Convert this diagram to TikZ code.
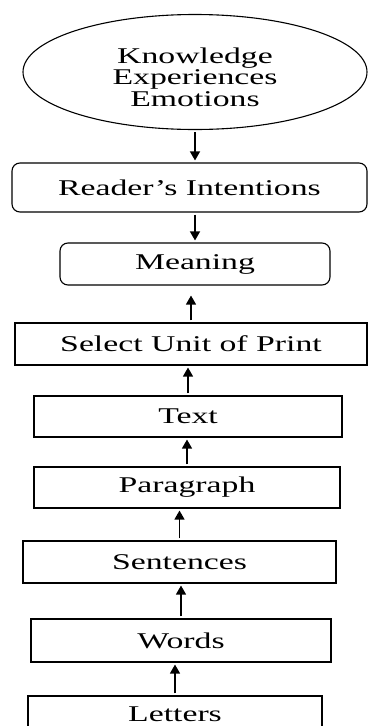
\documentclass[tikz,border=0pt]{standalone}
\usepackage{fontspec}
\setmainfont{Liberation Serif}[FakeStretch=1.5]
\usetikzlibrary{shapes.geometric,arrows.meta}
\begin{document}
\begin{tikzpicture}[x=1pt,y=-1pt,
    every node/.style={font=\fontsize{22.5}{21.5}\selectfont,inner sep=0pt},
    box/.style={draw,line width=1.1pt,minimum height=42pt},
    rbox/.style={box,rounded corners=8pt},
    arr/.style={-{Triangle[length=9pt,width=10pt]},line width=1.3pt,shorten <=2pt,shorten >=2pt}]
    \clip (0,0) rectangle (368,726);
    %Top
    \node[draw,ellipse,line width=1.1pt,minimum width=344pt,minimum height=115pt] (source) at (195,72) {};
    \node[align=center] (sourcetext) at ([yshift=-5pt]source.center) {Knowledge\\Experiences\\Emotions};
    \node[rbox,minimum width=355pt,minimum height=49pt] (intent) at (189.5,187.5) {Reader’s Intentions};
    \node[rbox,minimum width=270pt] (meaning) at (195,264) {Meaning};

    %Units of print
    \node[box,minimum width=352pt] (select) at (191,344) {Select Unit of Print};
    \node[box,minimum width=308pt,minimum height=41pt] (text) at (188,416.5) {Text};
    \node[box,minimum width=306pt,minimum height=41pt] (paragraph) at (187,487.5) {Paragraph};
    \node[box,minimum width=313pt] (sentences) at (179.5,562) {Sentences};
    \node[box,minimum width=300pt,minimum height=43pt] (words) at (181,640.5) {Words};
    \node[box,minimum width=294pt,minimum height=36pt] (letters) at (175,714) {Letters};

    %Arrows
    \draw[arr] (source.south) -- (source.south |- intent.north);
    \draw[arr,xshift=7pt] (intent.south -| meaning.north) -- (meaning.north);
    \draw[arr,shorten >=10pt] (select.north) -- (select.north |- meaning.south);
    \draw[arr,xshift=4pt] (text.north) -- (text.north |- select.south);
    \draw[arr] (paragraph.north) -- (paragraph.north |- text.south);
    \draw[arr] (sentences.north) -- (sentences.north |- paragraph.south);
    \draw[arr,xshift=-4pt] (words.north) -- (words.north |- sentences.south);
    \draw[arr] (letters.north) -- (letters.north |- words.south);
\end{tikzpicture}
\end{document}
